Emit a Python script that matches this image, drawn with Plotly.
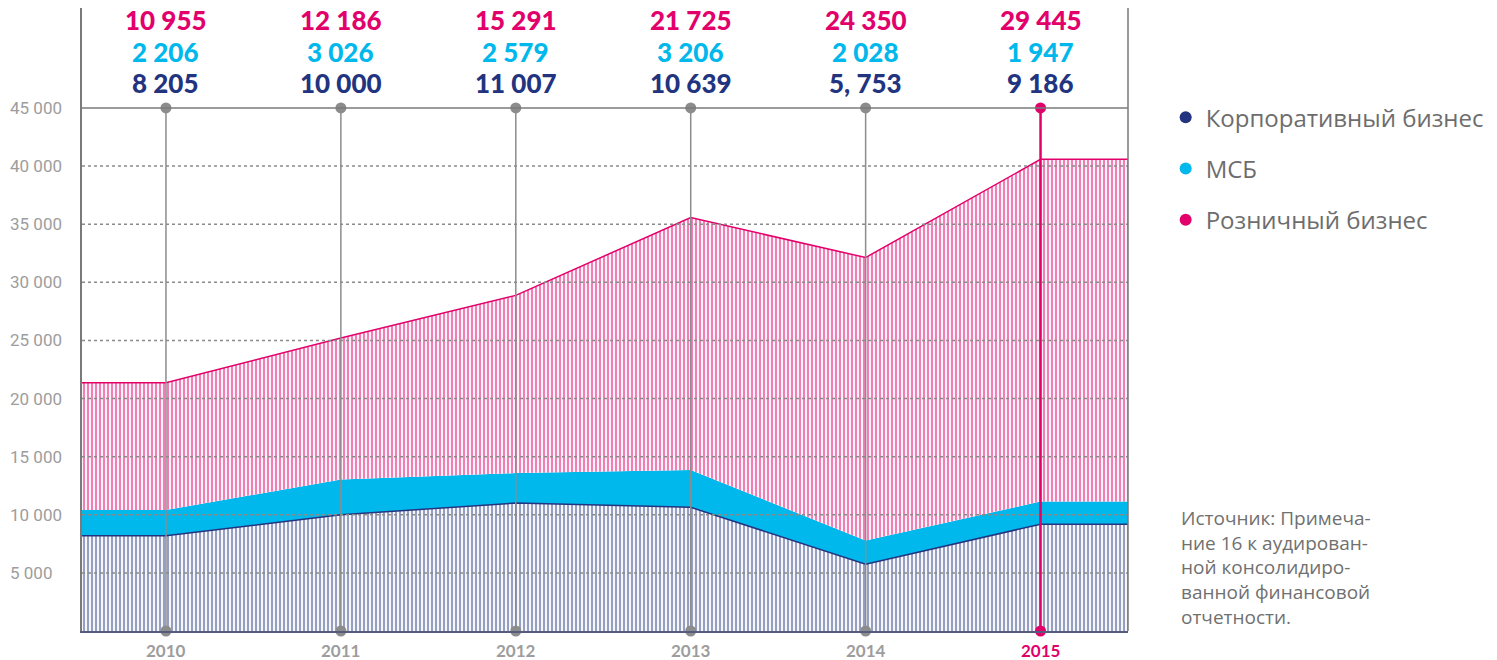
import plotly.graph_objects as go

# ---- data ----
years = [2010, 2011, 2012, 2013, 2014, 2015]
corporate = [8205, 10000, 11007, 10639, 5753, 9186]
msb = [2206, 3026, 2579, 3206, 2028, 1947]
retail = [10955, 12186, 15291, 21725, 24350, 29445]
corporate_labels = ["8 205", "10 000", "11 007", "10 639", "5, 753", "9 186"]
msb_labels = ["2 206", "3 026", "2 579", "3 206", "2 028", "1 947"]
retail_labels = ["10 955", "12 186", "15 291", "21 725", "24 350", "29 445"]
year_labels = ["2010", "2011", "2012", "2013", "2014", "2015"]
y_ticks = [5000, 10000, 15000, 20000, 25000, 30000, 35000, 40000, 45000]
y_tick_labels = ["5 000", "10 000", "15 000", "20 000", "25 000", "30 000", "35 000", "40 000", "45 000"]
series_names = ["Корпоративный бизнес", "МСБ", "Розничный бизнес"]
source_text = ("Источник: Примеча-<br>ние 16 к аудирован-<br>ной консолидиро-<br>"
               "ванной финансовой<br>отчетности.")

NAVY = "#22347f"
CYAN = "#00b8eb"
MAGENTA = "#e2006b"
GREY = "#8c8c8c"
TICK_GREY = "#9d9d9d"

X_MIN, X_MAX = 2009.52, 2015.5
Y_MAX = 53600
TOP_LINE = 45000

# extend each series flat to the plot edges
x_ext = [X_MIN] + years + [X_MAX]
def ext(v):
    return [v[0]] + v + [v[-1]]

fig = go.Figure()
fig.add_trace(go.Scatter(
    x=x_ext, y=ext(corporate), stackgroup="s", mode="lines",
    line=dict(color=NAVY, width=1.5),
    fillpattern=dict(shape="|", fgcolor="#2e3f86", bgcolor="white", size=4, solidity=0.55),
    showlegend=False, hoverinfo="skip"))
fig.add_trace(go.Scatter(
    x=x_ext, y=ext(msb), stackgroup="s", mode="lines",
    line=dict(color=CYAN, width=0), fillcolor=CYAN,
    showlegend=False, hoverinfo="skip"))
fig.add_trace(go.Scatter(
    x=x_ext, y=ext(retail), stackgroup="s", mode="lines",
    line=dict(color=MAGENTA, width=1.5),
    fillpattern=dict(shape="|", fgcolor=MAGENTA, bgcolor="white", size=4, solidity=0.55),
    showlegend=False, hoverinfo="skip"))

# gridlines above fills
shapes = []
for t in y_ticks[:-1]:
    shapes.append(dict(type="line", xref="paper", x0=0, x1=1, yref="y", y0=t, y1=t,
                       line=dict(color="#8a8a8a", width=1.5, dash="dot"), layer="above"))
shapes.append(dict(type="line", xref="paper", x0=0, x1=1, yref="y", y0=TOP_LINE, y1=TOP_LINE,
                   line=dict(color="#7a7a7a", width=1.5), layer="above"))
shapes.append(dict(type="line", xref="paper", x0=1, x1=1, yref="paper", y0=0, y1=1,
                   line=dict(color="#7a7a7a", width=1.5), layer="above"))

# vertical year lines with dots
for i, yr in enumerate(years):
    c = MAGENTA if i == len(years) - 1 else GREY
    w = 2.5 if i == len(years) - 1 else 1.5
    fig.add_trace(go.Scatter(
        x=[yr, yr], y=[0, TOP_LINE], mode="lines+markers",
        line=dict(color=c, width=w), marker=dict(color=c, size=11),
        cliponaxis=False, showlegend=False, hoverinfo="skip"))

# legend entries
for name, col in zip(series_names, [NAVY, CYAN, MAGENTA]):
    fig.add_trace(go.Scatter(
        x=[None], y=[None], mode="markers", name=name, legendgroup=name,
        marker=dict(color=col, size=10)))

annotations = []
for i, yr in enumerate(years):
    for lab, col, yp in [(retail_labels[i], MAGENTA, 0.9807),
                         (msb_labels[i], CYAN, 0.929),
                         (corporate_labels[i], NAVY, 0.8796)]:
        annotations.append(dict(x=yr, xref="x", y=yp, yref="paper", text=lab,
                                showarrow=False, xanchor="center", yanchor="middle",
                                font=dict(family="Lato", size=26, color=col, weight=900)))
    annotations.append(dict(x=yr, xref="x", y=-0.031, yref="paper",
                            text="<b>%s</b>" % year_labels[i], showarrow=False,
                            xanchor="center", yanchor="middle",
                            font=dict(family="Lato", size=17,
                                      color=MAGENTA if i == len(years) - 1 else TICK_GREY)))
for t, lab in zip(y_ticks, y_tick_labels):
    annotations.append(dict(x=-0.0706, xref="paper", y=t, yref="y", text=lab,
                            showarrow=False, xanchor="left", yanchor="middle",
                            font=dict(family="Roboto", size=17, color=TICK_GREY)))
annotations.append(dict(x=1.0487, xref="paper", y=0.206, yref="paper", text=source_text,
                        showarrow=False, xanchor="left", yanchor="top", align="left",
                        font=dict(family="Open Sans", size=19, color="#707070")))

fig.update_layout(
    width=1497, height=660,
    margin=dict(l=82, r=367, t=8, b=29),
    paper_bgcolor="white", plot_bgcolor="white",
    xaxis=dict(range=[X_MIN, X_MAX], showgrid=False, zeroline=False, showticklabels=False,
               showline=True, linecolor="#555b7d", linewidth=2, fixedrange=True),
    yaxis=dict(range=[0, Y_MAX], showgrid=False, zeroline=False, showticklabels=False,
               showline=True, linecolor="#7a7a7a", linewidth=1.5, fixedrange=True),
    shapes=shapes,
    annotations=annotations,
    showlegend=True,
    legend=dict(x=1.036, y=0.86, xanchor="left", yanchor="top",
                font=dict(family="Open Sans", size=24, color="#6d6d6d"),
                tracegroupgap=17, itemsizing="constant", bgcolor="rgba(0,0,0,0)"),
)

fig.write_html("out.html", config={"displayModeBar": False},
               post_script="document.body.style.margin='0';document.body.style.overflow='hidden';")
